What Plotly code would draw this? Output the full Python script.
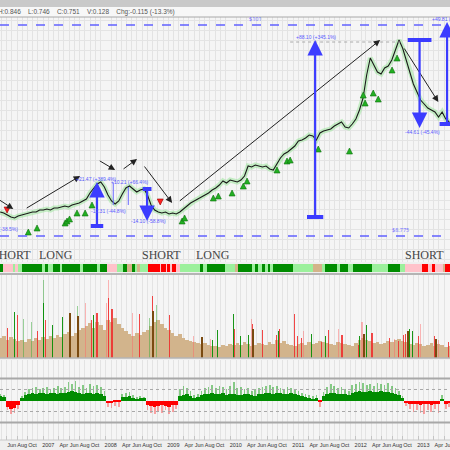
import pandas as pd
import plotly.graph_objects as go
from plotly.subplots import make_subplots

# ---------------- data ----------------
start_date = "2006-04-24"
step_days = 21
x_start, x_end = "2006-04-23", "2013-07-05"

price = [19, 18.5, 17.5, 16.5, 16, 17, 17.5, 18, 18.5, 19,
         19, 20, 20, 20.5, 20, 21, 21, 21.5, 22, 21.5,
         22.5, 23, 23.5, 24.5, 25.5, 28.5, 31, 33, 34, 31.5,
         27.5, 24.5, 23, 24.5, 28, 31, 32, 30.5, 29, 30,
         30.5, 27.5, 22.5, 20, 19, 18.5, 19, 18, 18.5, 18,
         19, 20.5, 22, 23.5, 24.5, 25.5, 26.5, 27.5, 28.5, 30,
         31, 32.5, 34.5, 33.5, 35, 34.5, 34, 35, 37, 42,
         41.5, 42.5, 42, 41.5, 42, 40.5, 40, 43, 46, 48,
         49, 50.5, 52, 54.5, 55, 56, 57.5, 57, 55, 58.5,
         59.5, 60, 60.5, 62, 63, 64, 61.5, 61, 63, 65.5,
         70, 76, 87.5, 96, 92.5, 89, 88, 91, 92, 95,
         100, 105, 101, 95, 89, 83, 79, 75, 73, 71,
         70, 69, 66.5, 69, 65.5, 64]

volume = [2.0, 2.2, 1.8, 2.1, 1.9, 1.7, 1.8, 1.6, 1.9, 1.7,
          2.0, 1.8, 2.1, 1.9, 2.2, 2.0, 2.3, 2.1, 2.4, 2.6,
          2.2, 2.5, 2.8, 3.0, 3.2, 3.5, 3.0, 3.6, 3.3, 2.8,
          3.8, 3.6, 4.0, 3.4, 3.0, 2.7, 2.4, 2.2, 2.5, 2.3,
          2.6, 2.8, 3.2, 3.6, 3.8, 3.4, 3.0, 2.8, 2.5, 2.2,
          2.4, 2.0, 1.8, 1.7, 1.6, 1.5, 1.4, 1.5, 1.3, 1.2,
          1.2, 1.1, 1.3, 1.2, 1.4, 1.3, 1.5, 1.3, 1.6, 1.4,
          1.2, 1.3, 1.5, 1.4, 1.3, 1.6, 1.4, 1.8, 1.5, 1.7,
          1.4, 1.3, 1.2, 1.4, 1.5, 1.3, 1.6, 1.4, 1.5, 1.7,
          1.6, 1.5, 1.4, 1.3, 1.6, 1.5, 1.4, 1.3, 1.2, 1.5,
          1.8, 2.0, 1.8, 1.7, 1.5, 1.6, 1.4, 1.5, 1.7, 1.6,
          1.8, 1.9, 1.7, 1.6, 1.4, 1.3, 1.5, 1.4, 1.2, 1.3,
          1.5, 1.2, 1.4, 1.3, 1.1, 1.2]

osc = [20, 15, -30, -40, -35, -20, 10, 25, 30, 35,
       30, 32, 35, 30, 33, 35, 30, 32, 35, 40,
       42, 38, 33, 30, 35, 32, 30, 35, 30, 20,
       -12, -10, -8, -5, 15, 18, 20, 12, 8, 10,
       12, -20, -25, -28, -25, -22, -25, -28, -22, -20,
       20, 25, 28, 20, 10, 15, 25, 28, 30, 32,
       28, 30, 33, 25, 28, 30, 26, 25, 30, 28,
       25, 22, 28, 30, 32, 35, 30, 33, 35, 30,
       28, 32, 30, 25, 20, 15, 10, 8, 12, -5,
       20, 30, 32, 35, 30, 28, 30, 25, 35, 40,
       42, 38, 40, 42, 38, 40, 42, 38, 40, 35,
       30, 25, 10, -10, -15, -18, -15, -20, -18, -15,
       -20, -16, -18, 5, -15, -12]

osc_peak = [30, 25, -45, -60, -55, -40, 20, 40, 50, 55,
            60, 50, 55, 60, 50, 55, 65, 55, 60, 85,
            75, 90, 60, 70, 55, 75, 65, 70, 60, 45,
            -30, -35, -25, -30, 30, 35, 40, 25, 15, 20,
            18, -45, -55, -60, -50, -55, -45, -60, -50, -40,
            50, 65, 55, 45, 25, 30, 45, 55, 60, 70,
            55, 65, 60, 50, 65, 85, 55, 60, 50, 55,
            45, 50, 55, 60, 65, 70, 60, 65, 55, 50,
            60, 55, 50, 45, 35, 30, 25, 20, 25, -30,
            40, 60, 75, 65, 55, 60, 50, 45, 70, 75,
            85, 80, 70, 75, 65, 80, 75, 70, 80, 65,
            55, 45, 20, -25, -40, -50, -45, -55, -60, -45,
            -50, -40, -55, 25, -40, -30]

spike_year = [2006.42, 2006.54, 2006.58, 2006.68, 2006.81, 2006.90, 2007.00, 2007.01, 2007.03,
              2007.14, 2007.30, 2007.42, 2007.54, 2007.56, 2007.67, 2007.77, 2007.80, 2007.86,
              2008.01, 2008.04, 2008.05, 2008.10, 2008.42, 2008.54, 2008.70, 2008.74, 2008.76,
              2008.81, 2009.02, 2009.40, 2009.54, 2009.67, 2009.70, 2009.78, 2010.04, 2010.06,
              2010.15, 2010.28, 2010.33, 2010.34, 2010.36, 2010.50, 2010.73, 2010.76, 2010.78,
              2011.02, 2011.06, 2011.13, 2011.16, 2011.29, 2011.45, 2011.51, 2011.56, 2011.72,
              2011.78, 2012.04, 2012.06, 2012.10, 2012.14, 2012.17, 2012.26, 2012.54, 2012.62,
              2012.68, 2012.76, 2012.79, 2012.84, 2012.86, 2012.90, 2013.00, 2013.03, 2013.26,
              2013.29, 2013.32, 2013.48]
spike_vol = [3.0, 4.6, 4.3, 3.9, 3.6, 2.7, 7.8, 5.5, 3.8,
             3.3, 4.1, 4.5, 5.2, 4.2, 5.5, 3.8, 4.3, 4.5,
             5.5, 7.8, 6.0, 4.9, 4.5, 4.4, 4.0, 6.2, 4.7,
             5.3, 4.3, 2.2, 2.1, 1.9, 1.8, 2.8, 4.4, 2.9,
             2.2, 2.3, 3.9, 3.4, 2.9, 2.8, 2.3, 2.7, 2.9,
             4.4, 2.2, 2.0, 2.7, 2.4, 1.6, 2.2, 2.8, 2.9,
             2.3, 1.3, 2.2, 3.6, 2.4, 3.3, 2.5, 2.0, 1.9,
             1.7, 2.3, 2.4, 2.7, 2.9, 2.7, 2.2, 3.4, 2.2,
             1.9, 1.8, 1.6]
spike_kind = ["r", "g", "r", "lg", "lg", "r", "lg", "g", "r",
              "g", "g", "b", "lg", "b", "p", "r", "g", "r",
              "p", "p", "r", "r", "p", "r", "lg", "r", "b",
              "lg", "r", "p", "b", "p", "g", "g", "g", "r",
              "g", "g", "p", "r", "b", "r", "r", "g", "r",
              "r", "r", "r", "p", "g", "r", "g", "r", "p",
              "r", "r", "g", "p", "b", "g", "r", "r", "p",
              "r", "r", "r", "b", "g", "g", "r", "p", "r",
              "b", "p", "r"]

strip_start = [2006.31, 2006.36, 2006.52, 2006.55, 2006.60, 2006.66, 2006.98, 2007.02, 2007.08, 2007.16,
               2007.27, 2007.30, 2007.59, 2007.64, 2007.86, 2007.91, 2008.02, 2008.18, 2008.28, 2008.34,
               2008.42, 2008.46, 2008.50, 2008.55, 2008.68, 2008.87, 2008.89, 2008.97, 2008.98, 2009.03,
               2009.06, 2009.13, 2009.19, 2009.51, 2009.56, 2009.62, 2009.91, 2010.07, 2010.12, 2010.34,
               2010.39, 2010.44, 2010.50, 2010.55, 2010.60, 2010.63, 2010.68, 2011.00, 2011.32, 2011.46,
               2011.51, 2011.70, 2011.75, 2011.88, 2011.96, 2012.26, 2012.52, 2012.71, 2012.79, 2013.06,
               2013.16, 2013.22, 2013.27, 2013.40, 2013.43]
strip_end = 2013.52
strip_kind = ["DG", "PK", "LG", "PK", "LG", "DG", "LG", "DG", "LG", "DG",
              "LG", "DG", "LG", "DG", "LG", "DG", "PK", "LG", "DG", "TN",
              "DG", "LG", "TN", "LG", "RD", "PK", "RD", "PK", "RD", "PK",
              "RD", "PK", "LG", "DG", "LG", "DG", "LG", "TN", "DG", "LG",
              "DG", "LG", "DG", "LG", "DG", "LG", "DG", "LG", "TN", "LG",
              "DG", "LG", "DG", "LG", "DG", "LG", "DG", "LG", "PK", "RD",
              "PK", "RD", "PK", "TN", "RD"]

buy_year = [2006.76, 2006.90, 2007.35, 2007.38, 2007.42, 2007.54, 2007.67, 2007.78, 2009.22, 2009.26,
            2009.72, 2009.80, 2010.02, 2010.20, 2010.26, 2010.74, 2010.90, 2010.95, 2011.40, 2011.90,
            2012.12, 2012.15, 2012.28, 2012.36, 2012.58, 2012.66]
buy_price = [10.5, 12.5, 15, 16, 17, 20, 20, 24, 16, 17.5,
             27.5, 28.5, 30, 33.5, 36, 41.5, 46, 46.5, 52, 51,
             79, 75, 80, 77, 91.5, 97.5]
sell_year = [2006.42, 2008.87]
sell_price = [18.5, 22.5]

trend_from_year = [2006.20, 2006.71, 2007.88, 2008.26, 2008.60, 2009.16, 2012.76]
trend_from_price = [27, 20.5, 45, 40, 42.5, 24, 101.5]
trend_to_year = [2006.52, 2007.59, 2008.15, 2008.50, 2009.06, 2012.39, 2013.32]
trend_to_price = [20.5, 37, 40, 45.5, 23.5, 105, 74]

measure_year = [2011.35, 2013.02, 2013.46, 2007.86, 2008.66]
measure_base = [16.5, 105, 63, 12, 30.5]
measure_tip = [105, 61, 114, 34, 14.5]
measure_bar = [0.13, 0.19, 0.12, 0.10, 0.07]
thin_year = [2008.12, 2008.36]
thin_from = [33.5, 31.5]
thin_to = [22.5, 22.5]

label_text = ["+88.10 (+345.1%)", "-44.61 (-45.4%)", "+49.81 (+97.9%)", "+21.47 (+389.4%)",
              "+10.21 (+66.4%)", "-12.31 (-44.8%)", "-14.10 (-58.8%)", "-6.18 (-38.5%)"]
label_year = [2011.37, 2013.06, 2013.19, 2007.85, 2008.38, 2008.04, 2008.68, 2006.62]
label_price = [106.5, 59, 115.5, 35.5, 34, 19.5, 14.5, 10.5]
label_anchor = ["center", "center", "left", "center", "center", "center", "center", "right"]

level_price = [112.5, 7]
level_text = ["$101", "$8.775"]
level_year = [2010.39, 2012.71]
peak_level = 104
peak_level_span = [2010.95, 2012.71]

signal_text = ["SHORT", "LONG", "SHORT", "LONG", "SHORT"]
signal_year = [2006.49, 2007.21, 2008.89, 2009.72, 2013.10]

header_text = "H:0.846    L:0.746    C:0.751    V:0.128    Chg:-0.115 (-13.3%)"
month_names = {4: "Apr", 6: "Jun", 8: "Aug", 10: "Oct"}
label_years = list(range(2006, 2014))

# ---------------- helpers ----------------
def dy(v):
    y = int(v)
    a = pd.Timestamp(year=y, month=1, day=1)
    b = pd.Timestamp(year=y + 1, month=1, day=1)
    return (a + (b - a) * (v - y)).strftime("%Y-%m-%d %H:%M")

DAY = 86400000
dates = pd.date_range(start_date, periods=len(price), freq=f"{step_days}D")

strip_colors = {"DG": "#008c00", "LG": "#9cf09c", "PK": "#ffc2ca", "TN": "#d4b48a", "RD": "#ff0000"}
spike_colors = {"r": "rgba(240,40,40,0.85)", "p": "rgba(255,100,100,0.45)", "g": "rgba(0,140,0,0.9)",
                "lg": "rgba(60,170,60,0.5)", "b": "#7a4a10"}
BLUE = "#3c3cff"

fig = make_subplots(rows=4, cols=1, shared_xaxes=True, vertical_spacing=0)

# price
fig.add_trace(go.Scatter(x=dates, y=price, mode="lines",
                         line=dict(color="rgba(150,230,150,0.5)", width=5)), row=1, col=1)
fig.add_trace(go.Scatter(x=dates, y=price, mode="lines",
                         line=dict(color="#1a1a1a", width=1.1)), row=1, col=1)
fig.add_trace(go.Scatter(x=[dy(v) for v in buy_year], y=buy_price, mode="markers",
                         marker=dict(symbol="arrow-up", size=6, color="#22b022",
                                     line=dict(color="#0b6e0b", width=0.6))), row=1, col=1)
fig.add_trace(go.Scatter(x=[dy(v) for v in sell_year], y=sell_price, mode="markers",
                         marker=dict(symbol="arrow-down", size=6, color="#ff2020",
                                     line=dict(color="#900", width=0.6))), row=1, col=1)

# signal strip
ends = strip_start[1:] + [strip_end]
fig.add_trace(go.Bar(x=[dy((s + e) / 2) for s, e in zip(strip_start, ends)],
                     y=[1] * len(strip_start),
                     width=[(pd.Timestamp(dy(e)) - pd.Timestamp(dy(s))).total_seconds() * 1000
                            for s, e in zip(strip_start, ends)],
                     marker=dict(color=[strip_colors[k] for k in strip_kind], line=dict(width=0))),
              row=2, col=1)

# volume
fig.add_trace(go.Bar(x=dates, y=volume, width=[step_days * DAY] * len(volume),
                     marker=dict(color="#d2b48c", line=dict(width=0))), row=3, col=1)
fig.add_trace(go.Bar(x=[dy(v) for v in spike_year], y=spike_vol, width=[6 * DAY] * len(spike_vol),
                     marker=dict(color=[spike_colors[k] for k in spike_kind], line=dict(width=0))),
              row=3, col=1)

# oscillator
fig.add_trace(go.Bar(x=dates, y=osc_peak, width=[10 * DAY] * len(osc_peak),
                     marker=dict(color=["rgba(0,150,0,0.45)" if v >= 0 else "rgba(255,60,60,0.45)"
                                        for v in osc_peak], line=dict(width=0))), row=4, col=1)
fig.add_trace(go.Bar(x=dates, y=osc, width=[step_days * DAY] * len(osc),
                     marker=dict(color=["#008c00" if v >= 0 else "#ff0000" for v in osc],
                                 line=dict(width=0))), row=4, col=1)

shapes = []
annotations = []
# header
shapes.append(dict(type="rect", xref="paper", yref="paper", x0=0, x1=1, y0=0.9844, y1=1,
                   fillcolor="#c9c9c9", line=dict(width=0), layer="above"))
shapes.append(dict(type="rect", xref="paper", yref="paper", x0=0, x1=1, y0=0.9622, y1=0.9844,
                   fillcolor="#f7f7f7", line=dict(width=0), layer="above"))
shapes.append(dict(type="line", xref="paper", yref="paper", x0=0, x1=1, y0=0.9622, y1=0.9622,
                   line=dict(color="#a8a8a8", width=1), layer="above"))
annotations.append(dict(text=header_text, xref="paper", yref="paper", x=-0.008, y=0.9733,
                        xanchor="left", yanchor="middle", showarrow=False,
                        font=dict(size=6.5, color="#555", family="Liberation Sans")))

# level lines
for p in level_price:
    shapes.append(dict(type="line", xref="paper", yref="y", x0=0, x1=1, y0=p, y1=p,
                       line=dict(color="#6262ff", width=1.3, dash="dash")))
for t, yv, p in zip(level_text, level_year, level_price):
    annotations.append(dict(text=t, x=dy(yv), y=p, xref="x", yref="y", showarrow=False,
                            yanchor="bottom", font=dict(size=5.5, color="#6a6aff")))
shapes.append(dict(type="line", xref="x", yref="y", x0=dy(peak_level_span[0]), x1=dy(peak_level_span[1]),
                   y0=peak_level, y1=peak_level, line=dict(color="#aaaaaa", width=1, dash="dot")))

# trend arrows
for fy, fp, ty, tp in zip(trend_from_year, trend_from_price, trend_to_year, trend_to_price):
    annotations.append(dict(x=dy(ty), y=tp, ax=dy(fy), ay=fp, xref="x", yref="y", axref="x", ayref="y",
                            showarrow=True, arrowhead=2, arrowsize=1.3, arrowwidth=1, arrowcolor="#222",
                            text=""))

# measure arrows
for yv, b, t, hw in zip(measure_year, measure_base, measure_tip, measure_bar):
    annotations.append(dict(x=dy(yv), y=t, ax=dy(yv), ay=b, xref="x", yref="y", axref="x", ayref="y",
                            showarrow=True, arrowhead=2, arrowsize=1.4, arrowwidth=2.2, arrowcolor=BLUE,
                            text=""))
    shapes.append(dict(type="line", xref="x", yref="y", x0=dy(yv - hw), x1=dy(yv + hw), y0=b, y1=b,
                       line=dict(color=BLUE, width=4)))
for yv, a, b in zip(thin_year, thin_from, thin_to):
    shapes.append(dict(type="line", xref="x", yref="y", x0=dy(yv), x1=dy(yv), y0=a, y1=b,
                       line=dict(color="#6a6aff", width=1)))

for t, yv, p, anc in zip(label_text, label_year, label_price, label_anchor):
    annotations.append(dict(text=t, x=dy(yv), y=p, xref="x", yref="y", showarrow=False,
                            xanchor=anc, font=dict(size=5, color="#5a5aff", family="Liberation Sans")))

for t, yv in zip(signal_text, signal_year):
    annotations.append(dict(text=t, x=dy(yv), y=-2.5, xref="x", yref="y", showarrow=False,
                            font=dict(size=12, color="#444", family="Liberation Serif")))

# volume frame
shapes.append(dict(type="line", xref="paper", yref="y3 domain", x0=0, x1=1, y0=1, y1=1,
                   line=dict(color="#b4b4b4", width=2)))
shapes.append(dict(type="line", xref="paper", yref="y3 domain", x0=0, x1=1, y0=0, y1=0,
                   line=dict(color="#b4b4b4", width=1.5)))
# oscillator levels
for lv, w, d in [(100, 2, "solid"), (-100, 2, "solid"), (50, 1, "dot"), (-50, 1, "dot")]:
    shapes.append(dict(type="line", xref="paper", yref="y4", x0=0, x1=1, y0=lv, y1=lv,
                       line=dict(color="#a8a8a8", width=w, dash=d)))
shapes.append(dict(type="line", xref="paper", yref="y4 domain", x0=0, x1=1, y0=0, y1=0,
                   line=dict(color="#c8c8c8", width=1)))

tickvals, ticktext = [], []
for yr in label_years:
    tickvals.append(f"{yr}-01-01")
    ticktext.append(str(yr))
    for m, nm in month_names.items():
        tickvals.append(f"{yr}-{m:02d}-01")
        ticktext.append(nm)

fig.update_layout(width=450, height=450, margin=dict(l=0, r=0, t=0, b=0, autoexpand=False),
                  paper_bgcolor="#efefef", plot_bgcolor="#f5f5f5", showlegend=False,
                  barmode="overlay", bargap=0, shapes=shapes, annotations=annotations)

for i in range(1, 5):
    fig.update_xaxes(range=[x_start, x_end], showgrid=False, zeroline=False, showline=False,
                     automargin=False,
                     minor=dict(dtick="M1", tick0="2006-01-01", showgrid=True, gridcolor="#e3e3e3",
                                gridwidth=1),
                     row=i, col=1)
fig.update_xaxes(tickmode="array", tickvals=tickvals, ticktext=ticktext, showticklabels=True,
                 tickangle=0, tickfont=dict(size=5.5, color="#333", family="Liberation Sans"),
                 ticks="inside", ticklen=4, tickcolor="#c4c4c4", ticklabelshift=5,
                 ticklabeloverflow="allow", row=4, col=1)

fig.update_layout(
    yaxis=dict(domain=[0.4178, 0.9622], range=[-6, 116.5], dtick=5, gridcolor="#e4e4e4",
               showticklabels=False, zeroline=False, automargin=False),
    yaxis2=dict(domain=[0.3956, 0.4133], range=[0, 1], showgrid=False, showticklabels=False,
                zeroline=False, automargin=False),
    yaxis3=dict(domain=[0.2044, 0.3911], range=[0, 8.4], showgrid=False, showticklabels=False,
                zeroline=False, automargin=False),
    yaxis4=dict(domain=[0.0222, 0.2], range=[-179.5, 184], showgrid=False, showticklabels=False,
                zeroline=False, automargin=False),
)

fig.write_html("out.html", config={"displayModeBar": False},
               post_script="document.body.style.margin='0';document.body.style.overflow='hidden';")
